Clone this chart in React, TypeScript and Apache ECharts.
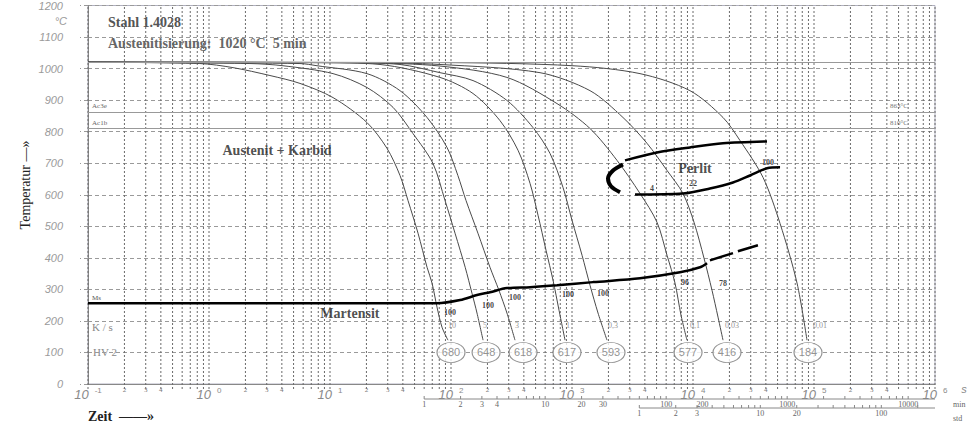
import React, { useEffect, useRef } from "react";
import * as echarts from "echarts";

// ---------- axes ----------
const timeDecades = [-1, 0, 1, 2, 3, 4, 5];
const gridMultipliers = [1, 2, 3, 4, 5, 6, 7, 8, 9];
const minorTickLabels = [2, 3, 4];
const timeMin = 0.1;
const timeMax = 1e6;
const tempMin = 0;
const tempMax = 1200;
const tempStep = 100;
const minuteLabels = [1, 2, 3, 4, 10, 20, 30, 100, 200, 1000, 10000];
const hourLabels = [1, 2, 3, 10, 20, 100];

// ---------- characteristic temperatures (°C) ----------
const austenitizingTemp = 1020;
const ac3eTemp = 863;
const ac1bTemp = 810;

// ---------- cooling curves [time s, temperature °C] ----------
const curve10: number[][] = [[0.1, 1020], [0.84, 1016], [1.58, 1003], [3.19, 978], [5.65, 953], [10.6, 908], [20.2, 829], [29.6, 747], [37.9, 661], [44.1, 582], [53.4, 478], [63.4, 370], [69.7, 320], [76.6, 244], [84.3, 180], [94.4, 139]];
const curve5: number[][] = [[0.1, 1020], [2.18, 1016], [4.09, 1009], [10.6, 984], [20.2, 940], [33.2, 877], [48.5, 794], [71.0, 699], [89.2, 582], [108, 478], [131, 370], [149, 288], [164, 225], [184, 139]];
const curve3: number[][] = [[0.1, 1020], [5.65, 1016], [7.81, 1009], [20.2, 984], [37.9, 930], [63.4, 845], [92.7, 750], [114, 661], [133, 582], [167, 478], [210, 370], [249, 297], [290, 225], [338, 139]];
const curve1: number[][] = [[0.1, 1020], [8, 1019], [25.9, 1013], [81.1, 972], [152, 921], [254, 835], [358, 741], [450, 636], [524, 535], [610, 424], [697, 329], [781, 234], [876, 139]];
const curve03: number[][] = [[0.1, 1020], [12, 1019], [37.9, 1013], [81.1, 987], [152, 962], [290, 899], [476, 813], [658, 731], [843, 623], [1000, 519], [1211, 408], [1409, 313], [1641, 225], [1946, 139]];
const curve01: number[][] = [[0.1, 1020], [20, 1018], [81.1, 1008], [290, 972], [752, 889], [1409, 810], [2355, 709], [3648, 604], [5039, 513], [6100, 408], [7100, 320], [7960, 218], [8916, 139]];
const curve003: number[][] = [[0.1, 1020], [20, 1019], [81.1, 1013], [544, 987], [1409, 930], [2638, 845], [4169, 763], [6100, 677], [8265, 604], [10190, 513], [12330, 399], [14360, 297], [16100, 212], [17700, 139]];
const curve001: number[][] = [[0.1, 1020], [81.1, 1019], [1019, 1009], [3648, 984], [9440, 930], [17700, 845], [24450, 772], [37900, 655], [52400, 509], [72400, 320], [87500, 139]];
const coolingCurves = [curve10, curve5, curve3, curve1, curve03, curve01, curve003, curve001];

// cooling rates (K/s) labels
const coolingRateLabels = ["10", "5", "3", "1", "0,3", "0,1", "0,03", "0,01"];
const coolingRateTimes = [102, 191, 351, 927, 2183, 10400, 21000, 112000];
const coolingRateTemp = 187;

// hardness HV 2
const hardnessValues = [680, 648, 618, 617, 593, 577, 416, 184];
const hardnessTimes = [100, 195, 394, 909, 2100, 9100, 19100, 89200];
const hardnessTemp = 100;

// transformation lines
const msLine: number[][] = [[0.1, 256], [76.6, 256], [119, 266], [164, 282], [210, 291], [290, 304], [450, 307], [752, 313], [1492, 323], [3648, 335], [7810, 354], [11430, 370], [13070, 383]];
const msDashA: number[][] = [[13800, 392], [21400, 415]];
const msDashB: number[][] = [[23500, 421], [34400, 440]];
const perlitStart: number[][] = [[2742, 709], [5039, 734], [9440, 750], [17700, 763], [40900, 769]];
const perlitEnd: number[][] = [[3318, 601], [8265, 604], [13800, 620], [21400, 639], [29600, 661], [40900, 684], [52400, 687]];
const perlitNose: number[][] = [[2638, 696], [2183, 677], [1984, 652], [2100, 627], [2494, 608]];

// phase fractions (%)
const fractionTexts = ["100", "100", "100", "100", "100", "96", "78", "4", "22", "100"];
const fractionTimes = [98, 202, 338, 927, 1803, 8590, 17700, 4580, 10000, 41700];
const fractionTemps = [228, 250, 275, 285, 288, 323, 320, 620, 636, 703];

// region names
const regionNames = ["Austenit + Karbid", "Perlit", "Martensit"];
const regionTimes = [3.65, 10400, 14.6];
const regionTemps = [741, 684, 225];

const serif = "'Liberation Serif', 'DejaVu Serif', serif";
const sans = "'Liberation Sans', Arial, sans-serif";

function txt(x: number, y: number, text: string, font: string, fill: string, align = "left", rotation = 0) {
  return {
    type: "text",
    x,
    y,
    rotation,
    silent: true,
    style: {
      text,
      font,
      fill,
      textAlign: align,
      textVerticalAlign: "middle",
      align,
      verticalAlign: "middle",
    },
  };
}

const plainLabel = (color: string, size: number, weight: string, family: string) => ({
  show: true,
  position: "inside",
  formatter: "{b}",
  color,
  fontSize: size,
  fontWeight: weight,
  fontFamily: family,
  textBorderWidth: 0,
  textBorderColor: "transparent",
  textShadowBlur: 0,
});

function buildOption() {
  const gridValues: number[] = [];
  timeDecades.forEach((d) => gridMultipliers.forEach((m) => gridValues.push(m * Math.pow(10, d))));
  gridValues.push(timeMax);
  const minorLabelValues: number[] = [];
  timeDecades.forEach((d) => minorTickLabels.forEach((m) => minorLabelValues.push(m * Math.pow(10, d))));
  const minuteTicks: number[] = [];
  [0, 1, 2, 3, 4].forEach((d) => gridMultipliers.forEach((m) => {
    const v = m * Math.pow(10, d);
    if (v * 60 <= timeMax) minuteTicks.push(v);
  }));
  const hourTicks: number[] = [];
  [0, 1, 2].forEach((d) => gridMultipliers.forEach((m) => {
    const v = m * Math.pow(10, d);
    if (v * 3600 <= timeMax) hourTicks.push(v);
  }));

  const curveSeries = coolingCurves.map((c) => ({
    type: "line",
    data: c,
    symbol: "none",
    smooth: 0.3,
    silent: true,
    z: 3,
    lineStyle: { color: "#4a4a4a", width: 1 },
  }));

  const thick = (data: number[][], width: number) => ({
    type: "line",
    data,
    symbol: "none",
    smooth: 0.3,
    silent: true,
    z: 4,
    lineStyle: { color: "#000", width },
  });

  return {
    animation: false,
    backgroundColor: "#fff",
    grid: { left: 88, right: 40, top: 5, bottom: 39, show: true, borderColor: "#b0b0c0", borderWidth: 1 },
    xAxis: {
      type: "log",
      logBase: 10,
      min: timeMin,
      max: timeMax,
      axisLine: { show: true, lineStyle: { color: "#888", width: 1 } },
      axisTick: { show: false },
      splitLine: { show: false },
      axisLabel: {
        showMinLabel: true,
        showMaxLabel: true,
        margin: 2,
        formatter: (v: number) => `{b|10}{s|${Math.round(Math.log10(v))}}`,
        rich: {
          b: { fontSize: 13, fontStyle: "italic", color: "#8a8a8a", fontFamily: sans },
          s: { fontSize: 8, color: "#8a8a8a", fontFamily: sans, padding: [0, 0, 9, 6] },
        },
      },
    },
    yAxis: {
      type: "value",
      min: tempMin,
      max: tempMax,
      interval: tempStep,
      axisLine: { show: true, lineStyle: { color: "#888", width: 1 } },
      axisTick: { show: true, length: 8, lineStyle: { color: "#999", type: [4, 3] } },
      splitLine: { show: true, lineStyle: { color: "#9a9a9a", type: [4, 3], width: 1 } },
      axisLabel: {
        margin: 25,
        color: "#9a9a9a",
        fontStyle: "italic",
        fontSize: 11,
        fontFamily: sans,
        formatter: (v: number) => String(v),
      },
    },
    graphic: [
      txt(67, 21, "°C", `italic 11px ${sans}`, "#9a9a9a", "right"),
      txt(108, 22, "Stahl 1.4028", `bold 14px ${serif}`, "#555"),
      txt(108, 43, "Austenitisierung:  1020 °C  5 min", `bold 14px ${serif}`, "#666"),
      txt(92, 106, "Ac3e", `7px ${serif}`, "#666"),
      txt(92, 123, "Ac1b", `7px ${serif}`, "#666"),
      txt(890, 106, "863°C", `7px ${serif}`, "#777"),
      txt(890, 123, "810°C", `7px ${serif}`, "#777"),
      txt(92, 298, "Ms", `7px ${serif}`, "#555"),
      txt(92, 327, "K / s", `11px ${serif}`, "#888"),
      txt(93, 352, "HV 2", `11px ${serif}`, "#888"),
      txt(25, 185, "Temperatur —»", `14px ${serif}`, "#222", "center", Math.PI / 2),
      txt(88, 416, "Zeit  ——»", `bold 14px ${serif}`, "#222"),
      txt(964, 389, "s", `italic 11px ${sans}`, "#8a8a8a", "center"),
      txt(953, 404, "min", `8px ${serif}`, "#666"),
      txt(953, 418, "std", `8px ${serif}`, "#666"),
    ],
    series: [
      {
        type: "custom",
        silent: true,
        z: 1,
        data: gridValues.map((v) => [v, tempMin]),
        encode: { x: 0, y: 1 },
        renderItem: (_p: any, api: any) => {
          const v = api.value(0);
          const b = api.coord([v, tempMin]);
          const t = api.coord([v, tempMax]);
          return {
            type: "line",
            shape: { x1: b[0], y1: b[1] + 5, x2: t[0], y2: t[1] },
            style: { stroke: "#6a6a6a", lineWidth: 1, lineDash: [2, 2] },
          };
        },
      },
      {
        type: "custom",
        silent: true,
        z: 2,
        data: minorLabelValues.map((v) => [v, tempMin]),
        encode: { x: 0, y: 1 },
        renderItem: (_p: any, api: any) => {
          const v = api.value(0);
          const b = api.coord([v, tempMin]);
          const label = String(Math.round(v / Math.pow(10, Math.floor(Math.log10(v) + 1e-9))));
          return {
            type: "text",
            x: b[0],
            y: b[1] + 6,
            style: { text: label, fill: "#777", font: `7px ${serif}`, textAlign: "center", textVerticalAlign: "middle", align: "center", verticalAlign: "middle" },
          };
        },
      },
      {
        type: "custom",
        silent: true,
        z: 2,
        data: [[1, tempMin]],
        encode: { x: 0, y: 1 },
        renderItem: (_p: any, api: any) => {
          const base = api.coord([1, tempMin])[1];
          const xEnd = api.coord([timeMax, tempMin])[0];
          const children: any[] = [];
          const scale = (ticks: number[], labels: number[], factor: number, y: number) => {
            const xs = api.coord([ticks[0] * factor, tempMin])[0];
            children.push({ type: "line", shape: { x1: xs, y1: y, x2: xEnd, y2: y }, style: { stroke: "#888", lineWidth: 1 } });
            ticks.forEach((v) => {
              const x = api.coord([v * factor, tempMin])[0];
              children.push({ type: "line", shape: { x1: x, y1: y - 3, x2: x, y2: y }, style: { stroke: "#888", lineWidth: 1 } });
            });
            labels.forEach((v) => {
              const x = api.coord([v * factor, tempMin])[0];
              children.push({
                type: "text",
                x,
                y: y + 5,
                style: { text: String(v), fill: "#666", font: `8px ${serif}`, textAlign: "center", textVerticalAlign: "middle", align: "center", verticalAlign: "middle" },
              });
            });
          };
          scale(minuteTicks, minuteLabels, 60, base + 15);
          scale(hourTicks, hourLabels, 3600, base + 24);
          return { type: "group", children };
        },
      },
      {
        type: "line",
        data: msLine,
        symbol: "none",
        smooth: 0.3,
        silent: true,
        z: 4,
        lineStyle: { color: "#000", width: 2.5 },
        markLine: {
          silent: true,
          symbol: "none",
          label: { show: false },
          lineStyle: { color: "#999", type: "solid", width: 1 },
          data: [{ yAxis: austenitizingTemp }, { yAxis: ac3eTemp }, { yAxis: ac1bTemp }],
        },
      },
      ...curveSeries,
      thick(msDashA, 2.5),
      thick(msDashB, 2.5),
      thick(perlitStart, 2.5),
      thick(perlitEnd, 2.5),
      thick(perlitNose, 4),
      {
        type: "scatter",
        silent: true,
        z: 5,
        symbol: "circle",
        symbolSize: [28, 20],
        itemStyle: { color: "#fff", borderColor: "#777", borderWidth: 1 },
        label: plainLabel("#777", 11, "normal", sans),
        data: hardnessValues.map((h, i) => ({ name: String(h), value: [hardnessTimes[i], hardnessTemp] })),
      },
      {
        type: "scatter",
        silent: true,
        z: 5,
        symbolSize: 1,
        itemStyle: { color: "rgba(255,255,255,0)" },
        label: plainLabel("#777", 8, "normal", serif),
        data: coolingRateLabels.map((s, i) => ({ name: s, value: [coolingRateTimes[i], coolingRateTemp] })),
      },
      {
        type: "scatter",
        silent: true,
        z: 5,
        symbolSize: 1,
        itemStyle: { color: "rgba(255,255,255,0)" },
        label: plainLabel("#111", 8, "bold", serif),
        data: fractionTexts.map((s, i) => ({ name: s, value: [fractionTimes[i], fractionTemps[i]] })),
      },
      {
        type: "scatter",
        silent: true,
        z: 5,
        symbolSize: 1,
        itemStyle: { color: "rgba(255,255,255,0)" },
        label: plainLabel("#222", 14, "bold", serif),
        data: regionNames.map((s, i) => ({ name: s, value: [regionTimes[i], regionTemps[i]] })),
      },
    ],
  };
}

export default function App() {
  const ref = useRef<HTMLDivElement>(null);
  useEffect(() => {
    const chart = echarts.init(ref.current as HTMLDivElement, null, { renderer: "svg" });
    chart.setOption(buildOption() as any);
    return () => chart.dispose();
  }, []);
  return (
    <div
      ref={ref}
      style={{ position: "fixed", left: 0, top: 0, width: 975, height: 423, background: "#fff" }}
    />
  );
}
